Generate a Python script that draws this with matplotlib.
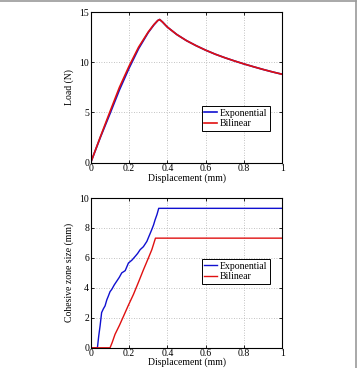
import matplotlib
matplotlib.use("Agg")
import matplotlib.pyplot as plt
from matplotlib.lines import Line2D

# ---- Data: load vs displacement ----
load_x = [0, 0.05, 0.1, 0.15, 0.2, 0.25, 0.3, 0.33, 0.35, 0.36, 0.375, 0.4, 0.45, 0.5, 0.55,
          0.6, 0.65, 0.7, 0.75, 0.8, 0.85, 0.9, 0.95, 1.0]
load_exp = [0, 2.5, 4.85, 7.25, 9.4, 11.35, 12.95, 13.72, 14.15, 14.25, 14.0, 13.5, 12.75, 12.15, 11.65,
            11.2, 10.8, 10.45, 10.13, 9.83, 9.55, 9.28, 9.03, 8.8]
load_bil = [0, 2.55, 5.05, 7.5, 9.6, 11.5, 13.0, 13.75, 14.15, 14.25, 14.0, 13.5, 12.75, 12.15, 11.65,
            11.2, 10.8, 10.45, 10.13, 9.83, 9.55, 9.28, 9.03, 8.8]

# ---- Data: cohesive zone size vs displacement ----
cz_exp_x = [0, 0.035, 0.042, 0.049, 0.057, 0.066, 0.075, 0.084, 0.092, 0.101, 0.11, 0.123, 0.136,
            0.149, 0.162, 0.18, 0.197, 0.215, 0.232, 0.245, 0.258, 0.275, 0.293, 0.306, 0.319,
            0.328, 0.336, 0.346, 0.355, 1.0]
cz_exp_y = [0, 0, 0.8, 1.46, 2.35, 2.6, 2.8, 3.2, 3.45, 3.75, 3.9, 4.2, 4.45,
            4.7, 5.0, 5.15, 5.66, 5.85, 6.1, 6.3, 6.55, 6.75, 7.1, 7.5, 7.9,
            8.2, 8.54, 8.9, 9.31, 9.31]
cz_bil_x = [0, 0.101, 0.112, 0.127, 0.15, 0.171, 0.197, 0.223, 0.25, 0.275, 0.298, 0.319, 0.338, 1.0]
cz_bil_y = [0, 0, 0.35, 0.9, 1.5, 2.1, 2.85, 3.56, 4.4, 5.2, 5.9, 6.55, 7.32, 7.32]

x_ticks = [0, 0.2, 0.4, 0.6, 0.8, 1]
x_ticklabels = ["0", "0.2", "0.4", "0.6", "0.8", "1"]
load_yticks = [0, 5, 10, 15]
cz_yticks = [0, 2, 4, 6, 8, 10]

BLUE = "#1010d0"
RED = "#e01010"

plt.rcParams["font.family"] = ["Liberation Serif", "DejaVu Serif"]
plt.rcParams["font.size"] = 7

fig = plt.figure(figsize=(3.58, 3.68), dpi=100)
W, H = 358, 368

def make_ax(left, top, right, bottom):
    return fig.add_axes([left / W, 1 - bottom / H, (right - left) / W, (bottom - top) / H])

def style(ax, yticks, ylabel, xlabelpad):
    ax.set_xlim(0, 1)
    ax.set_xticks(x_ticks)
    ax.set_xticklabels(x_ticklabels)
    ax.set_yticks(yticks)
    ax.set_ylim(yticks[0], yticks[-1])
    ax.grid(True, linestyle=(0, (1, 2)), color="#b0b0b0", linewidth=0.6)
    ax.tick_params(direction="in", length=2.5, width=0.6, top=True, right=True,
                   labelsize=7, pad=1.2)
    for s in ax.spines.values():
        s.set_linewidth(0.8)
    ax.set_xlabel("Displacement (mm)", fontsize=7, labelpad=xlabelpad)
    ax.set_ylabel(ylabel, fontsize=7, labelpad=4)

def add_legend(ax, anchor):
    leg = ax.legend(loc="upper left", bbox_to_anchor=anchor, fancybox=False,
                    edgecolor="black", framealpha=1, fontsize=7, handlelength=1.35,
                    borderpad=0.25, labelspacing=0.15, handletextpad=0.25, borderaxespad=0)
    leg.get_frame().set_linewidth(0.7)
    return leg

ax1 = make_ax(90.7, 12, 282.3, 162.7)
ax1.plot(load_x, load_exp, color=BLUE, lw=1.2, label="Exponential")
ax1.plot(load_x, load_bil, color=RED, lw=1.2, label="Bilinear")
style(ax1, load_yticks, "Load (N)", -0.3)
add_legend(ax1, (0.58, 0.375))

ax2 = make_ax(90.7, 198.0, 282.3, 347.8)
ax2.plot(cz_exp_x, cz_exp_y, color=BLUE, lw=1.0, label="Exponential")
ax2.plot(cz_bil_x, cz_bil_y, color=RED, lw=1.0, label="Bilinear")
style(ax2, cz_yticks, "Cohesive zone size (mm)", -0.8)
add_legend(ax2, (0.58, 0.59))

# outer frame lines (top and right)
fig.add_artist(Line2D([0, 355.5 / W], [1 - 0.8 / H, 1 - 0.8 / H], color="#999999", lw=1.2,
                      transform=fig.transFigure))
fig.add_artist(Line2D([355.5 / W, 355.5 / W], [0, 1 - 0.8 / H], color="#999999", lw=1.2,
                      transform=fig.transFigure))

fig.savefig("out.png", dpi=100)
